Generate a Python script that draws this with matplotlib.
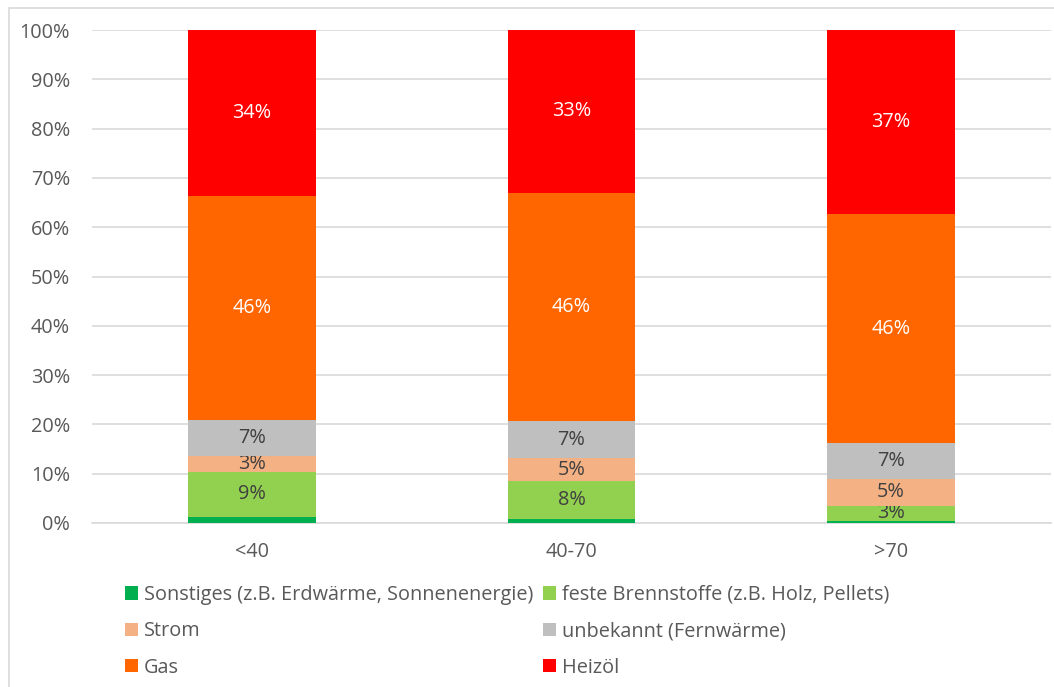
import numpy as np
import matplotlib.pyplot as plt
from matplotlib.patches import Rectangle

plt.rcParams['font.family'] = ['Open Sans', 'DejaVu Sans']

# datas (shares in percent)
groups = ['<40', '40-70', '>70']
series = ['Sonstiges (z.B. Erdwärme, Sonnenenergie)', 'feste Brennstoffe (z.B. Holz, Pellets)',
          'Strom', 'unbekannt (Fernwärme)', 'Gas', 'Heizöl']
sonstiges = [1.3, 0.9, 0.5]
feste = [9.1, 7.6, 3.0]
strom = [3.1, 4.7, 5.4]
unbekannt = [7.3, 7.4, 7.4]
gas = [45.6, 46.4, 46.3]
heizoel = [33.6, 33.0, 37.4]

values = [sonstiges, feste, strom, unbekannt, gas, heizoel]
colors = ['#00B050', '#92D050', '#F4B183', '#BFBFBF', '#FF6600', '#FF0000']
label_colors = ['#404040', '#404040', '#404040', '#404040', 'white', 'white']
fs = 14.3

W, H = 1054, 687
fig = plt.figure(figsize=(W / 100, H / 100), dpi=100)
ax = fig.add_axes([92 / W, (H - 523) / H, 959 / W, 493 / H])

# outer chart frame
fig.patches.append(Rectangle((9 / W, -0.01), 1.0, (H - 8) / H + 0.01, transform=fig.transFigure,
                             facecolor='none', edgecolor='#D9D9D9', linewidth=1.2))

x = np.arange(len(groups))
bottom = np.zeros(len(groups))
handles = []
for vals, name, col, lcol in zip(values, series, colors, label_colors):
    vals = np.array(vals)
    bars = ax.bar(x, vals, 0.4, bottom=bottom, color=col, label=name, zorder=3)
    handles.append(bars)
    labels = [f'{v:.0f}%' if v >= 2 else '' for v in vals]
    ax.bar_label(bars, labels=labels, label_type='center', color=lcol, fontsize=fs)
    bottom += vals

# styling
ax.set_xlim(-0.5, 2.5)
ax.set_ylim(0, 100)
ax.set_yticks(np.arange(0, 101, 10))
ax.set_yticklabels([f'{t}%' for t in range(0, 101, 10)])
ax.set_xticks(x)
ax.set_xticklabels(groups)
ax.tick_params(axis='both', length=0, labelsize=fs, labelcolor='#595959')
ax.tick_params(axis='y', pad=15.8)
ax.tick_params(axis='x', pad=14)
ax.grid(axis='y', color='#D9D9D9', linewidth=1.2, zorder=0)
for side in ['top', 'right', 'left']:
    ax.spines[side].set_visible(False)
ax.spines['bottom'].set_color('#D9D9D9')
ax.spines['bottom'].set_linewidth(1.2)

# legend in two columns, filled row by row
order = [0, 2, 4, 1, 3, 5]
leg = fig.legend([handles[i] for i in order], [series[i] for i in order], ncol=2,
                 loc='upper left', bbox_to_anchor=(115 / W, (H - 575) / H),
                 frameon=False, fontsize=fs, handlelength=0.65, handleheight=0.65,
                 handletextpad=0.3, columnspacing=0.5, labelspacing=0.82, borderpad=0)
for t in leg.get_texts():
    t.set_color('#595959')

plt.savefig('out.png', dpi=100)
plt.close('all')
